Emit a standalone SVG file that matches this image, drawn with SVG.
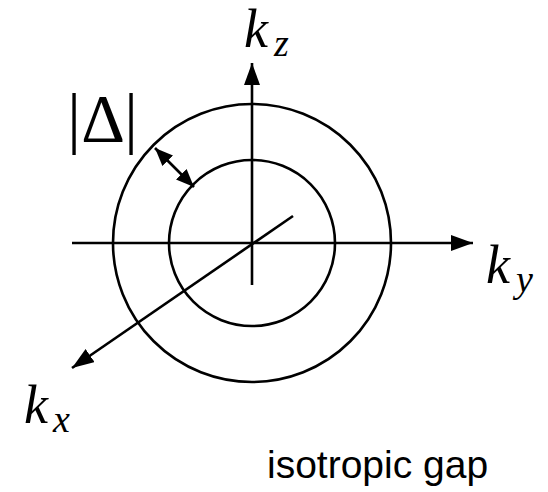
<svg xmlns="http://www.w3.org/2000/svg" width="548" height="492" viewBox="0 0 548 492">
<style>
.ln{fill:none;stroke:#000;stroke-width:2.6}
.m{font-family:"Liberation Serif","DejaVu Serif",serif;font-style:italic;fill:#000}
.s{font-family:"Liberation Sans",Arial,sans-serif;fill:#000}
.r{font-family:"Liberation Serif","DejaVu Serif",serif;fill:#000}
</style>
<defs>
<marker id="ah" markerUnits="userSpaceOnUse" markerWidth="24" markerHeight="18" refX="22" refY="8" orient="auto">
<path d="M0,0 L22,8 L0,16 Z" fill="#000"/>
</marker>
<marker id="sh" markerUnits="userSpaceOnUse" markerWidth="20" markerHeight="16" refX="18" refY="7.5" orient="auto-start-reverse">
<path d="M0,0 L18,7.5 L0,15 Z" fill="#000"/>
</marker>
</defs>
<g id="circles">
<circle id="outer" class="ln" cx="252" cy="243" r="139"/>
<circle id="inner" class="ln" cx="252" cy="243" r="83"/>
</g>
<g id="connectors">
<line class="ln" x1="252" y1="285" x2="252" y2="63" marker-end="url(#ah)"/>
<line class="ln" x1="72" y1="243" x2="473" y2="243" marker-end="url(#ah)"/>
<line class="ln" x1="293" y1="216" x2="72" y2="368" marker-end="url(#ah)"/>
<line class="ln" x1="155" y1="148" x2="194" y2="187" marker-start="url(#sh)" marker-end="url(#sh)"/>
</g>
<g id="label-kz">
<text class="m" x="244" y="47" font-size="54">k</text>
<text class="m" x="274" y="56" font-size="38">z</text>
</g>
<g id="label-ky">
<text class="m" x="486" y="283" font-size="54">k</text>
<text class="m" x="516" y="292" font-size="38">y</text>
</g>
<g id="label-kx">
<text class="m" x="24" y="423" font-size="54">k</text>
<text class="m" x="53" y="432" font-size="38">x</text>
</g>
<g id="label-delta">
<text class="r" x="74 103 131" y="141" font-size="68" text-anchor="middle">|Δ|</text>
</g>
<g id="caption">
<text class="s" x="267" y="478" font-size="39">isotropic gap</text>
</g>
</svg>
